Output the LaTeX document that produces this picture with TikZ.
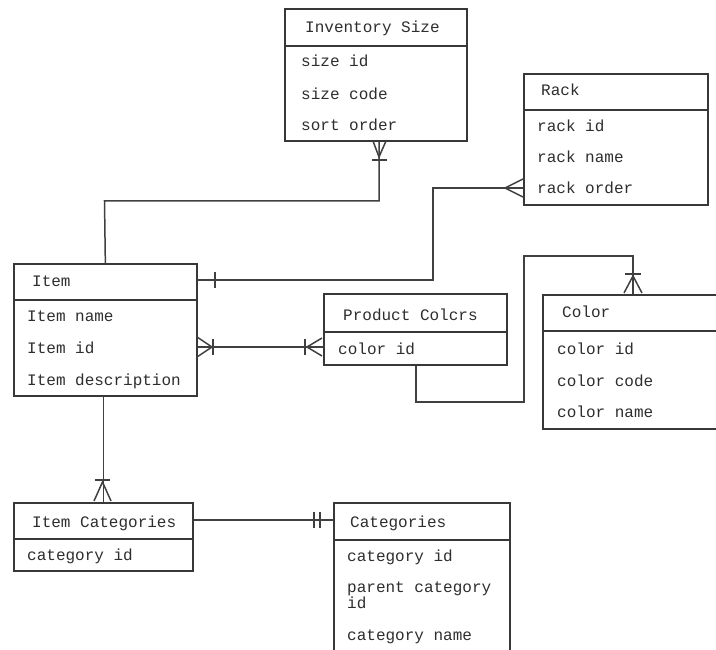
\documentclass[tikz,border=0pt]{standalone}
\usepackage{fontspec}
\setmonofont{Liberation Mono}
\begin{document}
\begin{tikzpicture}[x=1pt,y=-1pt,
  ebox/.style={draw=black!78, line width=1.7pt, inner sep=0pt, anchor=north west},
  hdr/.style={draw=black!78, line width=1.5pt},
  conn/.style={draw=black!75, line width=1.5pt},
  ttl/.style={anchor=west, inner sep=0pt, text=black!82, font=\ttfamily\fontsize{16}{16}\selectfont, text height=11pt, text depth=3pt},
  fld/.style={ttl}]
\useasboundingbox (0,0) rectangle (716,650);
\clip (0,0) rectangle (716,650);
\fill[white] (0,0) rectangle (716,650);

% Inventory Size
\node[ebox, minimum width=182pt, minimum height=132pt] (inv) at (284,8) {};
\draw[hdr] (284,46) -- (466,46);
\node[ttl] (invt) at (305,29) {Inventory Size};
\node[fld] (inv1) at (301,63) {size id};
\node[fld] (inv2) at (301,96) {size code};
\node[fld] (inv3) at (301,127) {sort order};

% Rack
\node[ebox, minimum width=184pt, minimum height=131pt] (rack) at (523,73) {};
\draw[hdr] (523,110) -- (707,110);
\node[ttl] (rackt) at (541,92) {Rack};
\node[fld] (rack1) at (537,128) {rack id};
\node[fld] (rack2) at (537,159) {rack name};
\node[fld] (rack3) at (537,190) {rack order};

% Item
\node[ebox, minimum width=183pt, minimum height=132pt] (item) at (13,263) {};
\draw[hdr] (13,300) -- (196,300);
\node[ttl] (itemt) at (32,283) {Item};
\node[fld] (item1) at (27,318) {Item name};
\node[fld] (item2) at (27,349) {Item id};
\node[fld] (item3) at (27,381) {Item description};

% Product Colors
\node[ebox, minimum width=183pt, minimum height=71pt] (pc) at (323,293) {};
\draw[hdr] (323,332) -- (506,332);
\node[ttl] (pct) at (343,316) {Product Colcrs};
\node[fld] (pc1) at (338,350) {color id};

% Color
\node[ebox, minimum width=190pt, minimum height=134pt] (col) at (542,294) {};
\draw[hdr] (542,331) -- (716,331);
\node[ttl] (colt) at (562,314) {Color};
\node[fld] (col1) at (557,350) {color id};
\node[fld] (col2) at (557,382) {color code};
\node[fld] (col3) at (557,413) {color name};

% Item Categories
\node[ebox, minimum width=179pt, minimum height=68pt] (icat) at (13,502) {};
\draw[hdr] (13,539) -- (192,539);
\node[ttl] (icatt) at (32,523) {Item Categories};
\node[fld] (icat1) at (27,556) {category id};

% Categories
\node[ebox, minimum width=176pt, minimum height=170pt] (cat) at (333,502) {};
\draw[hdr] (333,540) -- (509,540);
\node[ttl] (catt) at (350,523) {Categories};
\node[fld] (cat1) at (347,557) {category id};
\node[fld] (cat2) at (347,588) {parent category};
\node[fld] (cat2b) at (347,604) {id};
\node[fld] (cat3) at (347,636) {category name};

% connector Inventory Size - Item
\coordinate (a1) at (379,201);
\coordinate (a2) at (104.5,201);
\draw[conn] (inv.south -| a1) -- (a1) -- (a2) -- (item.north);
\draw[conn] (372,160) -- (387,160);
\draw[conn] (373,141) -- (379,157) -- (386,141);

% connector Rack - Item
\coordinate (b1) at (433,188);
\coordinate (b2) at (433,280);
\draw[conn] (rack.west |- b1) -- (b1) -- (b2) -- (item.east |- b2);
\draw[conn] (523,179) -- (505,188) -- (523,197);
\draw[conn] (215,272) -- (215,288);

% connector Item - Product Colors
\coordinate (c1) at (200,347);
\draw[conn] (item.east |- c1) -- (pc.west |- c1);
\draw[conn] (197,337) -- (212,347) -- (197,357);
\draw[conn] (213,339) -- (213,355);
\draw[conn] (322,338) -- (307,347) -- (322,356);
\draw[conn] (305,339) -- (305,355);

% connector Product Colors - Color
\coordinate (d1) at (416,402);
\coordinate (d2) at (524,402);
\coordinate (d3) at (524,256);
\coordinate (d4) at (633,256);
\draw[conn] (pc.south -| d1) -- (d1) -- (d2) -- (d3) -- (d4) -- (col.north -| d4);
\draw[conn] (624,293) -- (633,276) -- (642,293);
\draw[conn] (625,274) -- (641,274);

% connector Item - Item Categories
\draw[conn] (item.south -| icat.north) -- (icat.north);
\draw[conn] (94,501) -- (102.5,482) -- (111,501);
\draw[conn] (95,480) -- (110,480);

% connector Item Categories - Categories
\coordinate (e1) at (200,520);
\draw[conn] (icat.east |- e1) -- (cat.west |- e1);
\draw[conn] (314,512) -- (314,528);
\draw[conn] (320,512) -- (320,528);
\end{tikzpicture}
\end{document}
